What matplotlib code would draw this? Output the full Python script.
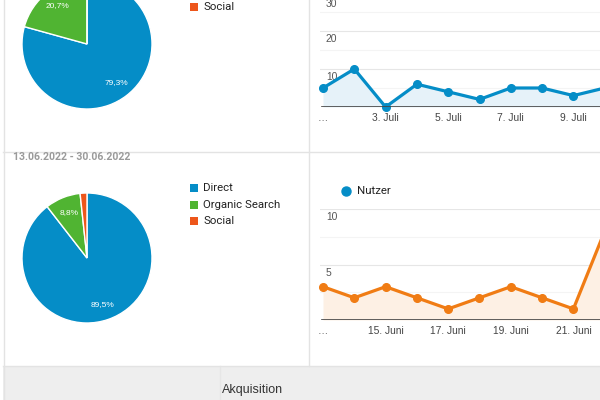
import matplotlib
matplotlib.use("Agg")
import matplotlib.pyplot as plt

# pie data (percent of users by channel)
channels = ["Direct", "Organic Search", "Social"]
share_july = [79.3, 20.7, 0.0]
share_june = [89.5, 8.8, 1.7]
pie_colors = ["#058DC7", "#50B432", "#ED561B"]

# daily users
july_days = [1, 2, 3, 4, 5, 6, 7, 8, 9, 10]
july_users = [5, 10, 0, 6, 4, 2, 5, 5, 3, 5]
july_ticks = [1, 3, 5, 7, 9]
july_ticklabels = ["…", "3. Juli", "5. Juli", "7. Juli", "9. Juli"]

june_days = [13, 14, 15, 16, 17, 18, 19, 20, 21, 22]
june_users = [3, 2, 3, 2, 1, 2, 3, 2, 1, 8]
june_ticks = [13, 15, 17, 19, 21]
june_ticklabels = ["…", "15. Juni", "17. Juni", "19. Juni", "21. Juni"]

W, H = 600, 400
fig = plt.figure(figsize=(6, 4), dpi=100)
fig.patch.set_facecolor("white")

def px_axes(x0, y0, x1, y1, **kw):
    # pixel box (top-left origin) -> figure axes
    return fig.add_axes([x0 / W, 1 - y1 / H, (x1 - x0) / W, (y1 - y0) / H], **kw)

# background: panel borders and footer
bg = px_axes(0, 0, W, H)
bg.set_xlim(0, W)
bg.set_ylim(H, 0)
bg.axis("off")
border = "#e3e3e3"
bg.add_patch(plt.Rectangle((3, 366), 600, 40, color="#eeeeee", lw=0))
bg.plot([220, 220], [366, 400], color="#e6e6e6", lw=1)
bg.plot([3.5, 3.5], [0, 400], color=border, lw=1)
bg.plot([308.5, 308.5], [0, 366], color=border, lw=1)
bg.plot([3, 600], [151.5, 151.5], color=border, lw=1)
bg.plot([3, 600], [365.5, 365.5], color=border, lw=1)
bg.text(222, 390, "Akquisition", fontsize=9, color="#333333",
        family="Liberation Sans", va="center", ha="left")
bg.text(13, 157, "13.06.2022 - 30.06.2022", fontsize=7.6, color="#9a9a9a",
        fontweight="bold", family="Roboto", va="center", ha="left")

# pie legends
def square_legend(names, y0, step):
    for i, name in enumerate(names):
        y = y0 + i * step
        bg.add_patch(plt.Rectangle((190, y - 4), 8, 8, color=pie_colors[channels.index(name)], lw=0))
        bg.text(203, y, name, fontsize=8.2, color="#222222", family="Roboto",
                va="center", ha="left")

square_legend(["Social"], 7, 16.5)
square_legend(channels, 188, 16.5)

# Nutzer legend
bg.plot([346], [191], "o", color="#058DC7", ms=6.5)
bg.text(357, 191, "Nutzer", fontsize=8.2, color="#222222", family="Roboto",
        va="center", ha="left")

def pct(p):
    return "" if p < 5 else f"{p:.1f}".replace(".", ",") + "%"

def draw_pie(cx, cy, r, values):
    ax = px_axes(cx - r, cy - r, cx + r, cy + r)
    ax.pie(values, colors=pie_colors, startangle=90, counterclock=False,
           autopct=pct, pctdistance=0.75,
           wedgeprops=dict(edgecolor="white", linewidth=1),
           textprops=dict(color="white", fontsize=6, family="Liberation Sans"))
    ax.set_xlim(-1, 1)
    ax.set_ylim(-1, 1)
    ax.axis("off")

draw_pie(87, 44, 65, share_july)
draw_pie(87, 258, 65, share_june)

def draw_line(days, users, ticks, ticklabels, color, fill, y0px, ppu, ymax,
              major, minor, shown):
    step = 31.3
    top = y0px - ppu * ymax
    ax = px_axes(320, top, 640, y0px)
    ax.set_xlim(days[0] - 3 / step, days[0] + 317 / step)
    ax.set_ylim(0, ymax)
    for v in minor:
        ax.axhline(v, color="#f4f4f4", lw=0.8, zorder=0)
    for v in major:
        ax.axhline(v, color="#e6e6e6", lw=0.8, zorder=0)
    for v in shown:
        # label sits just under its gridline; keep the top one on the canvas
        off = -8 if top + ppu * (ymax - v) > 0 else -11
        ax.annotate(str(v), xy=(0, v), xycoords=("axes fraction", "data"),
                    xytext=(6, off), textcoords="offset pixels", va="center",
                    ha="left", fontsize=7.4, color="#555555",
                    family="Liberation Sans")
    ax.fill_between(days, users, 0, color=fill, lw=0, zorder=1)
    ax.plot(days, users, "-o", color=color, lw=2.3, ms=5.5, zorder=3,
            clip_on=False)
    ax.axhline(0, xmin=2 / 320, color="#444444", lw=1.2, zorder=4)
    ax.set_xticks(ticks)
    ax.set_xticklabels(ticklabels, fontsize=7.4, color="#444444",
                       family="Liberation Sans")
    ax.tick_params(axis="x", length=0, pad=4)
    ax.set_yticks([])
    for s in ax.spines.values():
        s.set_visible(False)
    ax.patch.set_alpha(0)

draw_line(july_days, july_users, july_ticks, july_ticklabels, "#058DC7",
          "#e6f2f9", 107, 3.8, 30, [10, 20, 30], [5, 15, 25], [10, 20, 30])
draw_line(june_days, june_users, june_ticks, june_ticklabels, "#F07C14",
          "#fdf0e4", 320, 11.1, 10, [5, 10], [2.5, 7.5], [5, 10])

fig.savefig("out.png", dpi=100)
